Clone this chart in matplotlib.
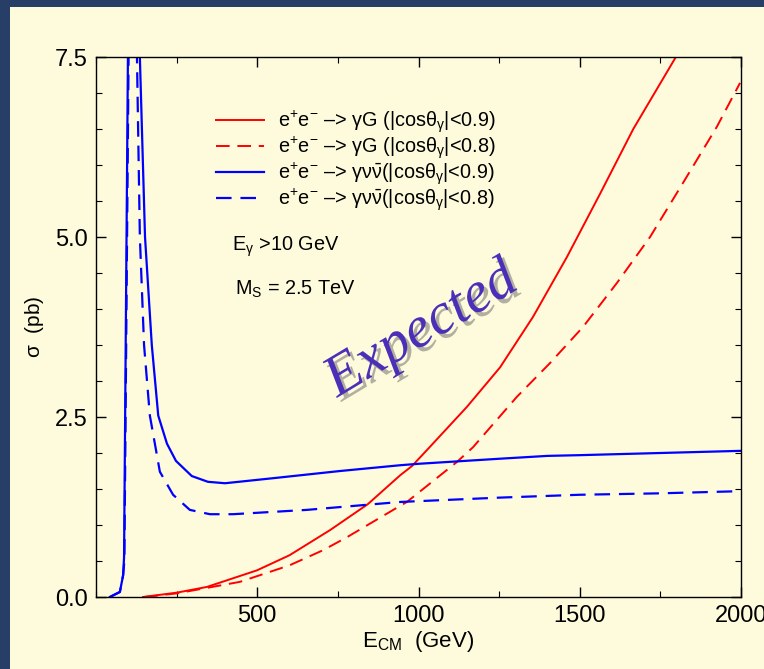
import numpy as np
import matplotlib
matplotlib.use("Agg")
import matplotlib.pyplot as plt
import matplotlib.patheffects as pe
from matplotlib.patches import Rectangle

plt.rcParams['font.family'] = ['Liberation Sans', 'DejaVu Sans']
plt.rcParams['mathtext.fontset'] = 'custom'
plt.rcParams['mathtext.rm'] = 'Liberation Sans'
plt.rcParams['mathtext.it'] = 'Liberation Sans:italic'
plt.rcParams['mathtext.default'] = 'rm'

# e+e- -> gamma G, |cos|<0.9 and <0.8
eG9 = [146, 250, 344, 499, 600, 726, 843, 943, 980, 1026, 1150, 1253, 1355, 1460, 1563, 1666, 1798]
sG9 = [0.0, 0.06, 0.14, 0.37, 0.58, 0.93, 1.29, 1.69, 1.82, 2.04, 2.64, 3.19, 3.89, 4.72, 5.60, 6.50, 7.5]
eG8 = [150, 250, 446, 600, 704, 778, 933, 964, 1119, 1169, 1305, 1408, 1510, 1615, 1718, 1820, 1925, 1997]
sG8 = [0.0, 0.05, 0.21, 0.44, 0.65, 0.83, 1.24, 1.32, 1.875, 2.08, 2.78, 3.25, 3.75, 4.36, 5.0, 5.75, 6.53, 7.14]

# e+e- -> gamma nu nubar
eN9 = [43, 74, 84, 87, 99, 115, 136, 152, 173, 193, 220, 248, 297, 347, 400, 549, 757, 943,
       1000, 1250, 1400, 1500, 1750, 2000]
sN9 = [0.0, 0.07, 0.3, 0.55, 7.5, 11.0, 7.5, 5.0, 3.5, 2.52, 2.13, 1.89, 1.68, 1.60, 1.58, 1.65, 1.75, 1.83,
       1.85, 1.92, 1.96, 1.97, 2.0, 2.03]
eN8 = [43, 74, 84, 88, 101, 112, 127, 136, 149, 167, 198, 239, 291, 353, 425, 654, 943,
       1250, 1500, 1750, 2000]
sN8 = [0.0, 0.07, 0.3, 0.5, 7.5, 9.0, 7.5, 5.0, 3.5, 2.52, 1.74, 1.42, 1.21, 1.15, 1.15, 1.21, 1.32,
       1.38, 1.42, 1.44, 1.47]

labels = [r'e$^{+}$e$^{-}$ –> $\gamma$G (|cos$\theta_{\gamma}$|<0.9)',
          r'e$^{+}$e$^{-}$ –> $\gamma$G (|cos$\theta_{\gamma}$|<0.8)',
          r'e$^{+}$e$^{-}$ –> $\gamma\nu\bar{\nu}$(|cos$\theta_{\gamma}$|<0.9)',
          r'e$^{+}$e$^{-}$ –> $\gamma\nu\bar{\nu}$(|cos$\theta_{\gamma}$|<0.8)']

cream = '#fdfbdc'
fig = plt.figure(figsize=(7.64, 6.69), dpi=100, facecolor='#273f66')
fig.patches.append(Rectangle((10/764, 0), 1, 1 - 7/669, transform=fig.transFigure,
                             facecolor=cream, edgecolor='none', zorder=-5))
ax = fig.add_axes([96/764, 72/669, 645/764, 540/669])
ax.set_facecolor(cream)

dash = (0, (7, 4))
ax.plot(eG9, sG9, color='#ff0000', lw=1.4, label=labels[0])
ax.plot(eG8, sG8, color='#ff0000', lw=1.4, ls=dash, label=labels[1])
ax.plot(eN9, sN9, color='#0000ff', lw=1.6, label=labels[2])
ax.plot(eN8, sN8, color='#0000ff', lw=1.6, ls=dash, label=labels[3])

ax.set_xlim(0, 2000)
ax.set_ylim(0, 7.5)
ax.set_xticks([500, 1000, 1500, 2000])
ax.set_xticks(np.arange(0, 2001, 250), minor=True)
ax.set_yticks([0, 2.5, 5.0, 7.5])
ax.set_yticklabels(['0.0', '2.5', '5.0', '7.5'])
ax.set_yticks(np.arange(0, 7.51, 0.5), minor=True)
ax.tick_params(which='both', direction='in', top=True, right=True, labelsize=17, pad=6)
ax.tick_params(which='major', length=7, width=1)
ax.tick_params(which='minor', length=4, width=0.8)
for s in ax.spines.values():
    s.set_linewidth(1.0)

ax.set_xlabel(r'E$_{\rm CM}$  (GeV)', fontsize=16, labelpad=1)
ax.set_ylabel(r'$\sigma$  (pb)', fontsize=15, labelpad=6)

leg = ax.legend(loc='upper left', bbox_to_anchor=(0.165, 0.93), frameon=False, fontsize=14.3,
                handlelength=2.4, handletextpad=0.7, labelspacing=-0.03, borderpad=0.2)

ax.text(0.211, 0.642, r'E$_{\gamma}$ >10 GeV', transform=ax.transAxes, fontsize=14.3)
ax.text(0.216, 0.56, r'M$_{\rm S}$ = 2.5 TeV', transform=ax.transAxes, fontsize=14.3)

ax.text(1010, 3.7, 'Expected', fontsize=42, family='Liberation Serif', style='italic',
        color='#4b2fb8', rotation=31, ha='center', va='center',
        path_effects=[pe.withSimplePatchShadow(offset=(3, -3), shadow_rgbFace='#555555', alpha=0.45)])

fig.savefig('out.png', dpi=100, facecolor=fig.get_facecolor())
